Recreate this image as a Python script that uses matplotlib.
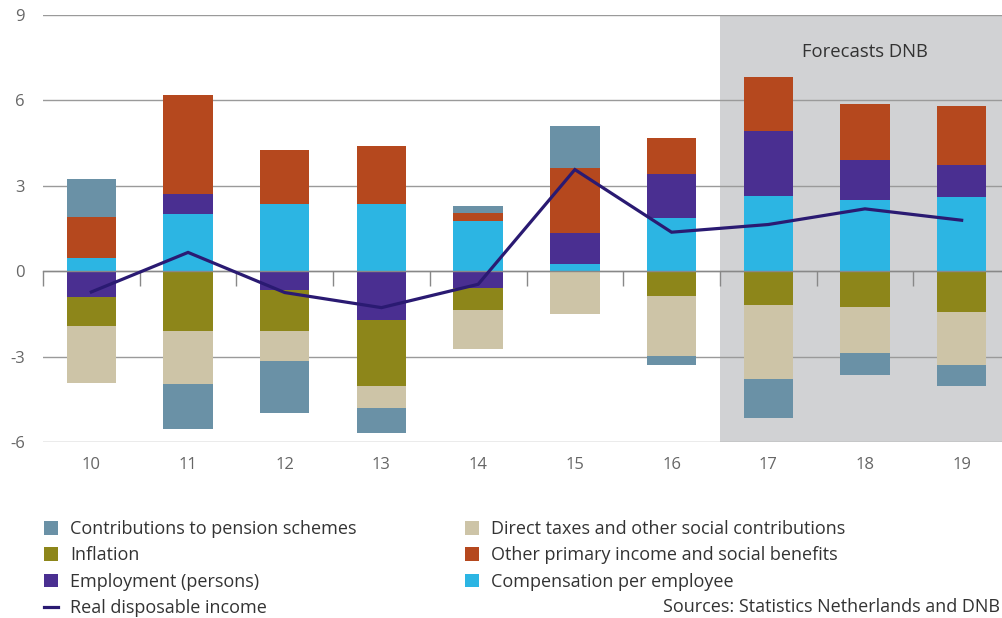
import matplotlib
matplotlib.use("Agg")
import matplotlib.pyplot as plt
import numpy as np
from matplotlib.patches import Patch
from matplotlib.lines import Line2D

plt.rcParams['font.family'] = ['Open Sans', 'DejaVu Sans']

# Contributions to real disposable income growth (percentage points)
years = ["10", "11", "12", "13", "14", "15", "16", "17", "18", "19"]
compensation = [0.47, 2.00, 2.37, 2.37, 1.76, 0.25, 1.86, 2.64, 2.50, 2.60]
employment = [-0.90, 0.71, -0.67, -1.72, -0.59, 1.09, 1.55, 2.28, 1.41, 1.13]
inflation = [-1.02, -2.11, -1.44, -2.31, -0.78, 0.00, -0.88, -1.20, -1.27, -1.44]
other_income = [1.43, 3.48, 1.88, 2.02, 0.28, 2.30, 1.27, 1.90, 1.97, 2.07]
direct_taxes = [-2.01, -1.86, -1.05, -0.77, -1.36, -1.50, -2.11, -2.60, -1.62, -1.86]
pension = [1.33, -1.57, -1.82, -0.88, 0.25, 1.46, -0.32, -1.36, -0.76, -0.74]
real_income = [-0.73, 0.66, -0.75, -1.28, -0.46, 3.57, 1.37, 1.64, 2.19, 1.79]

forecast_start = "17"

C_PENSION = "#6a91a6"
C_INFL = "#8d861a"
C_EMPL = "#4a2f91"
C_TAX = "#cdc4a7"
C_OTHER = "#b5481e"
C_COMP = "#2cb5e3"
C_LINE = "#2a1a72"
GRID = "#9a9a9a"
TICK_TXT = "#666666"
TXT = "#333333"

series = [
    ("Compensation per employee", compensation, C_COMP),
    ("Employment (persons)", employment, C_EMPL),
    ("Inflation", inflation, C_INFL),
    ("Other primary income and social benefits", other_income, C_OTHER),
    ("Direct taxes and other social contributions", direct_taxes, C_TAX),
    ("Contributions to pension schemes", pension, C_PENSION),
]

fig = plt.figure(figsize=(10.03, 6.18), dpi=100)
ax = fig.add_axes([43 / 1003, 176 / 618, 967 / 1003, 427 / 618])

x = np.arange(len(years))
fs = x[years.index(forecast_start)] - 0.5
ax.axvspan(fs, len(years) + 1, color="#d1d2d4", zorder=0, lw=0)

pos_base = np.zeros(len(years))
neg_base = np.zeros(len(years))
for name, vals, col in series:
    v = np.array(vals)
    base = np.where(v >= 0, pos_base, neg_base)
    ax.bar(x, v, bottom=base, width=0.51, color=col, zorder=3, linewidth=0)
    pos_base += np.where(v >= 0, v, 0)
    neg_base += np.where(v < 0, v, 0)

ax.plot(x, real_income, color=C_LINE, lw=2.3, zorder=5, solid_joinstyle="miter")

ax.set_xlim(-0.5, len(years) - 0.5)
ax.set_ylim(-6, 9)
ax.set_yticks([-6, -3, 0, 3, 6, 9])
ax.set_yticklabels(["-6", "-3", "0", "3", "6", "9"])
ax.yaxis.grid(True, color=GRID, lw=1.0, zorder=1)
ax.set_axisbelow(True)
for s in ax.spines.values():
    s.set_visible(False)
ax.tick_params(axis="y", length=0, pad=13, labelsize=12, labelcolor=TICK_TXT)
ax.set_xticks(x)
ax.set_xticklabels(years)
ax.tick_params(axis="x", length=0, pad=11, labelsize=12, labelcolor=TICK_TXT)

# zero line with category separators
zero = ax.secondary_xaxis(0.4)
zero.set_xticks(np.arange(-0.5, len(years), 1.0))
zero.tick_params(axis="x", direction="out", length=11, width=1.0, color="#888888",
                 labelbottom=False, labeltop=False, bottom=True, top=False)
zero.spines["bottom"].set_color("#888888")
zero.spines["bottom"].set_linewidth(1.0)
zero.spines["top"].set_visible(False)
zero.set_zorder(4)

ax.text(x[years.index("18")], 7.7, "Forecasts DNB", ha="center", va="center",
        fontsize=13.3, color=TXT, zorder=6)

def sq(c):
    return Patch(facecolor=c, edgecolor="none")

h1 = [sq(C_PENSION), sq(C_INFL), sq(C_EMPL), Line2D([], [], color=C_LINE, lw=2.3)]
l1 = ["Contributions to pension schemes", "Inflation", "Employment (persons)",
      "Real disposable income"]
h2 = [sq(C_TAX), sq(C_OTHER), sq(C_COMP)]
l2 = ["Direct taxes and other social contributions",
      "Other primary income and social benefits", "Compensation per employee"]

common = dict(frameon=False, fontsize=13, handlelength=0.78, handleheight=0.78,
              handletextpad=0.65, labelspacing=0.47, borderaxespad=0, borderpad=0,
              labelcolor=TXT, loc="upper left")
fig.legend(h1, l1, bbox_to_anchor=(44 / 1003, 1 - 520 / 618), **common)
fig.legend(h2, l2, bbox_to_anchor=(465 / 1003, 1 - 520 / 618), **common)

fig.text(1000 / 1003, 1 - 607 / 618, "Sources: Statistics Netherlands and DNB",
         ha="right", va="center", fontsize=13, color=TXT)

fig.savefig("out.png", dpi=100)
